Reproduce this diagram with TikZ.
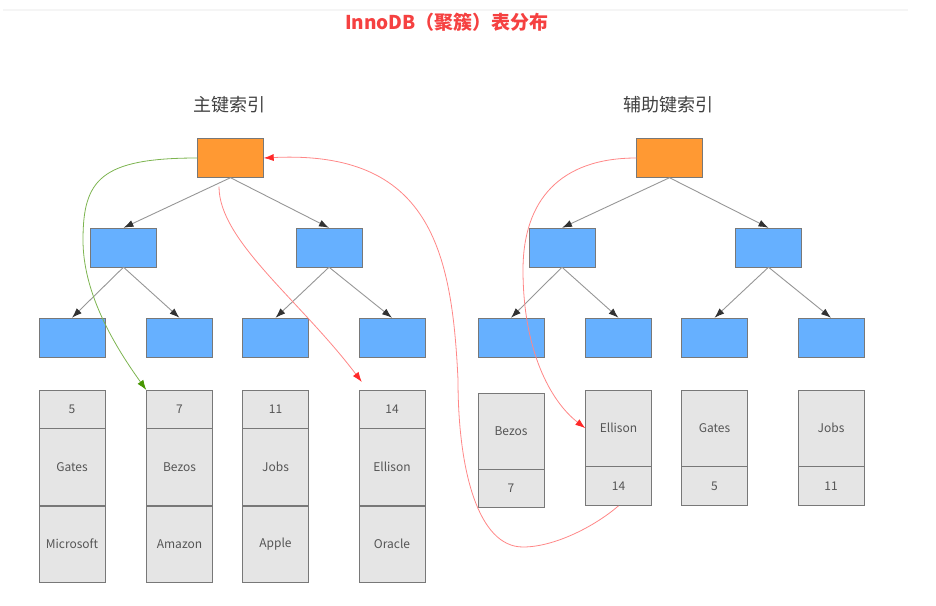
\documentclass[tikz,border=0pt]{standalone}
\usepackage{fontspec}
\setmainfont{Noto Sans CJK SC}
\usetikzlibrary{arrows.meta, calc, positioning}
\definecolor{rootorange}{RGB}{255,153,51}
\definecolor{leafblue}{RGB}{102,176,255}
\definecolor{boxline}{RGB}{120,120,120}
\definecolor{cellgray}{RGB}{229,229,229}
\definecolor{celltext}{RGB}{85,85,85}
\definecolor{edgegray}{RGB}{150,150,150}
\definecolor{tipgray}{RGB}{50,50,50}
\definecolor{linered}{RGB}{255,135,135}
\definecolor{tipred}{RGB}{255,40,40}
\definecolor{linegreen}{RGB}{125,180,80}
\definecolor{tipgreen}{RGB}{70,150,0}
\definecolor{titlered}{RGB}{245,65,65}
\tikzset{
    treeN/.style={draw=boxline, fill=leafblue, minimum width=66pt, minimum height=39pt, inner sep=0pt},
    rootN/.style={treeN, fill=rootorange},
    cellN/.style={draw=boxline, fill=cellgray, minimum width=66pt, inner sep=0pt, anchor=north,
        text=celltext, font=\fontsize{12}{14}\selectfont},
    edgeT/.style={draw=edgegray, line width=0.9pt, -{Latex[length=10pt,width=7pt,color=tipgray]}},
    bareR/.style={draw=linered, line width=0.8pt, -{Latex[length=10pt,width=7pt,color=tipred]}},
    bareG/.style={draw=linegreen, line width=0.8pt, -{Latex[length=10pt,width=7pt,color=tipgreen]}}
}

\begin{document}
\begin{tikzpicture}[x=1pt, y=-1pt]
    \useasboundingbox (0,0) rectangle (936,605);
    \draw[gray!8, line width=1.5pt] (3,10) -- (908,10);
    \node[font=\bfseries\fontsize{19}{22}\selectfont, text=titlered] (t0) at (447,22) {InnoDB（聚簇）表分布};
    \node[font=\fontsize{18}{20}\selectfont, text=black!75] (t1) at (229,105) {主键索引};
    \node[font=\fontsize{18}{20}\selectfont, text=black!75] (t2) at (668,105) {辅助键索引};
    % primary key tree
    \node[rootN] (r1) at (230.5,158) {};
    \node[treeN] (a1) at (123.5,247.5) {};
    \node[treeN] (a2) at (329,247.5) {};
    \foreach \i/\x in {1/72, 2/179.5, 3/275.5, 4/392}
        \node[treeN] (b\i) at (\x,337.5) {};
    \draw[edgeT] (r1.south) -- (a1.north);
    \draw[edgeT] (r1.south) -- (a2.north);
    \draw[edgeT] (a1.south) -- (b1.north);
    \draw[edgeT] (a1.south) -- (b2.north);
    \draw[edgeT] (a2.south) -- (b3.north);
    \draw[edgeT] (a2.south) -- (b4.north);
    \foreach \i/\x/\k/\n/\m in {1/72/5/Gates/Microsoft, 2/179.5/7/Bezos/Amazon,
                                3/275.5/11/Jobs/Apple, 4/392/14/Ellison/Oracle}{
        \node[cellN, minimum height=38pt] (k\i) at (\x,390) {\k};
        \node[cellN, minimum height=77pt] (n\i) at (k\i.south) {\n};
        \node[cellN, minimum height=76pt] (m\i) at (n\i.south) {\m};
    }
    % secondary key tree
    \node[rootN] (r2) at (669.5,158) {};
    \node[treeN] (a3) at (562,247.5) {};
    \node[treeN] (a4) at (768.5,247.5) {};
    \foreach \i/\x in {5/511, 6/618.5, 7/714.5, 8/831}
        \node[treeN] (b\i) at (\x,337.5) {};
    \draw[edgeT] (r2.south) -- (a3.north);
    \draw[edgeT] (r2.south) -- (a4.north);
    \draw[edgeT] (a3.south) -- (b5.north);
    \draw[edgeT] (a3.south) -- (b6.north);
    \draw[edgeT] (a4.south) -- (b7.north);
    \draw[edgeT] (a4.south) -- (b8.north);
    \foreach \i/\x/\y/\n/\k/\h in {5/511/393/Bezos/7/38, 6/618.5/390/Ellison/14/39,
                                   7/714.5/390/Gates/5/39, 8/831/390/Jobs/11/39}{
        \node[cellN, minimum height=76pt] (n\i) at (\x,\y) {\n};
        \node[cellN, minimum height=\h pt] (k\i) at (n\i.south) {\k};
    }
    % lookup paths
    \coordinate (g1) at (83,240);
    \coordinate (s1) at ($(r1.south)+(-11.5,9)$);
    \coordinate (e1) at ($(k4.north west)+(3,-8)$);
    \coordinate (h1) at (523,547);
    \coordinate (h2) at (458,380);
    \coordinate (h3) at (523,270);
    \draw[bareG] (r1.west) .. controls +(-97,0) and +(0,-60) .. (g1)
        .. controls +(0,50) and +(-36,-50) .. (k2.north west);
    \draw[bareR] (s1) .. controls +(0,54) and +(-62,-82) .. (e1);
    \draw[bareR] (r2.west) .. controls +(-76,0) and +(0,-70) .. (h3)
        .. controls +(0,80) and +(-35,-27) .. (n6.west);
    \draw[bareR] (k6.south) .. controls +(-23,20) and +(32,0) .. (h1)
        .. controls +(-45,0) and +(0,90) .. (h2)
        .. controls +(-6,-130) and +(166,-8) .. (r1.east);
\end{tikzpicture}
\end{document}
